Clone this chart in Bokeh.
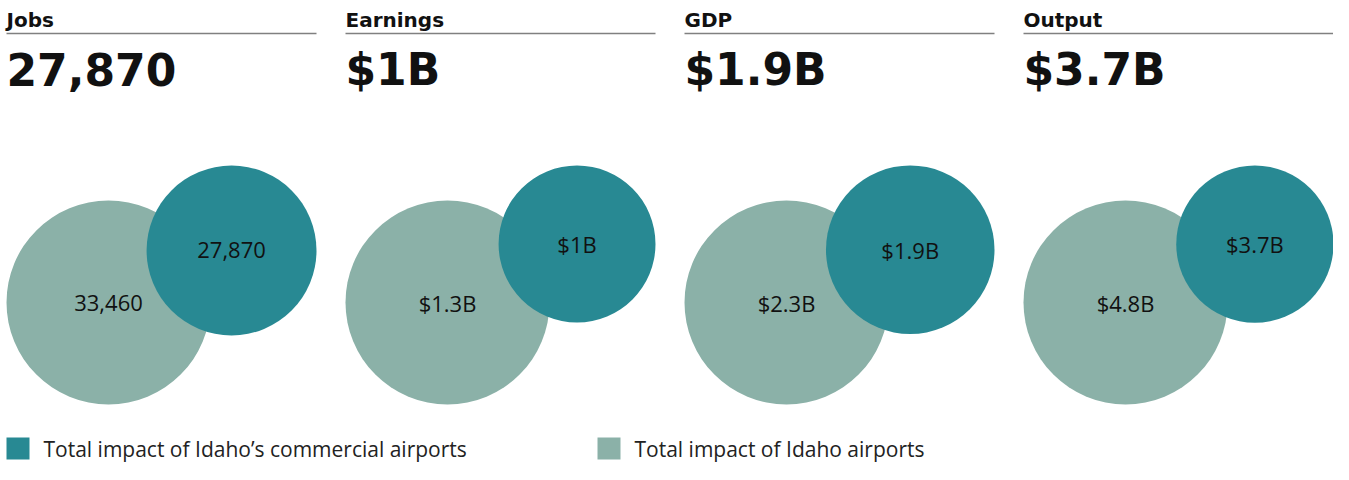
from bokeh.plotting import figure
from bokeh.models import Range1d
from bokeh.core.properties import value
from bokeh.embed import file_html
from bokeh.resources import INLINE

# ---- data ----
categories = ["Jobs", "Earnings", "GDP", "Output"]
commercial_values = [27870, 1.0, 1.9, 3.7]
all_values = [33460, 1.3, 2.3, 4.8]
commercial_labels = ["27,870", "$1B", "$1.9B", "$3.7B"]
all_labels = ["33,460", "$1.3B", "$2.3B", "$4.8B"]
legend_labels = ["Total impact of Idaho\u2019s commercial airports", "Total impact of Idaho airports"]

DARK = "#288993"
LIGHT = "#8BB1A8"
TXT = "#111111"

# ---- layout (data units = pixels) ----
PANEL_W = 310
PANEL_STEP = 339
X0 = 6
R_BIG = 102
BIG_CY = 302
SMALL_TOP = 165

p = figure(width=1333, height=464, output_backend="svg", toolbar_location=None,
           x_range=Range1d(0, 1333), y_range=Range1d(464, 0),
           min_border=0, outline_line_color=None, background_fill_color="white",
           border_fill_color="white")
p.axis.visible = False
p.grid.visible = False

px0 = [X0 + i * PANEL_STEP for i in range(len(categories))]

big_x = [x + R_BIG for x in px0]
big_y = [BIG_CY] * len(categories)
big_r = [R_BIG] * len(categories)
small_r = [R_BIG * c / a for c, a in zip(commercial_values, all_values)]
small_x = [x + PANEL_W - r for x, r in zip(px0, small_r)]
small_y = [SMALL_TOP + r for r in small_r]

p.circle(x=big_x, y=big_y, radius=big_r, fill_color=LIGHT, line_color=None)
p.circle(x=small_x, y=small_y, radius=small_r, fill_color=DARK, line_color=None)

lab_font = value("Open Sans")
p.text(x=big_x, y=big_y, text=all_labels, text_align="center", text_baseline="middle",
       text_font=lab_font, text_font_size="22px", text_color=TXT)
p.text(x=small_x, y=small_y, text=commercial_labels, text_align="center", text_baseline="middle",
       text_font=lab_font, text_font_size="22px", text_color=TXT)

# titles, rules and headline values
p.text(x=px0, y=[19.5] * 4, text=categories, text_font=value("DejaVu Sans"),
       text_font_style="bold", text_font_size="20px", text_color=TXT,
       text_baseline="middle", text_align="left")
p.segment(x0=px0, y0=[33] * 4, x1=[x + PANEL_W for x in px0], y1=[33] * 4,
          line_color="#808080", line_width=1.6)
p.text(x=px0, y=[69] * 4, text=commercial_labels, text_font=value("DejaVu Sans"),
       text_font_style="bold", text_font_size="44px", text_color=TXT,
       text_baseline="middle", text_align="left")

# legend
leg_x = [6, 597]
leg_colors = [DARK, LIGHT]
LEG_Y = 448
p.rect(x=[x + 11.5 for x in leg_x], y=[LEG_Y] * 2, width=23, height=22,
       fill_color=leg_colors, line_color=None)
p.text(x=[x + 37 for x in leg_x], y=[LEG_Y] * 2, text=legend_labels, text_font=lab_font,
       text_font_size="21px", text_color="#222222", text_baseline="middle")

open("out.html", "w").write(file_html(p, INLINE))
